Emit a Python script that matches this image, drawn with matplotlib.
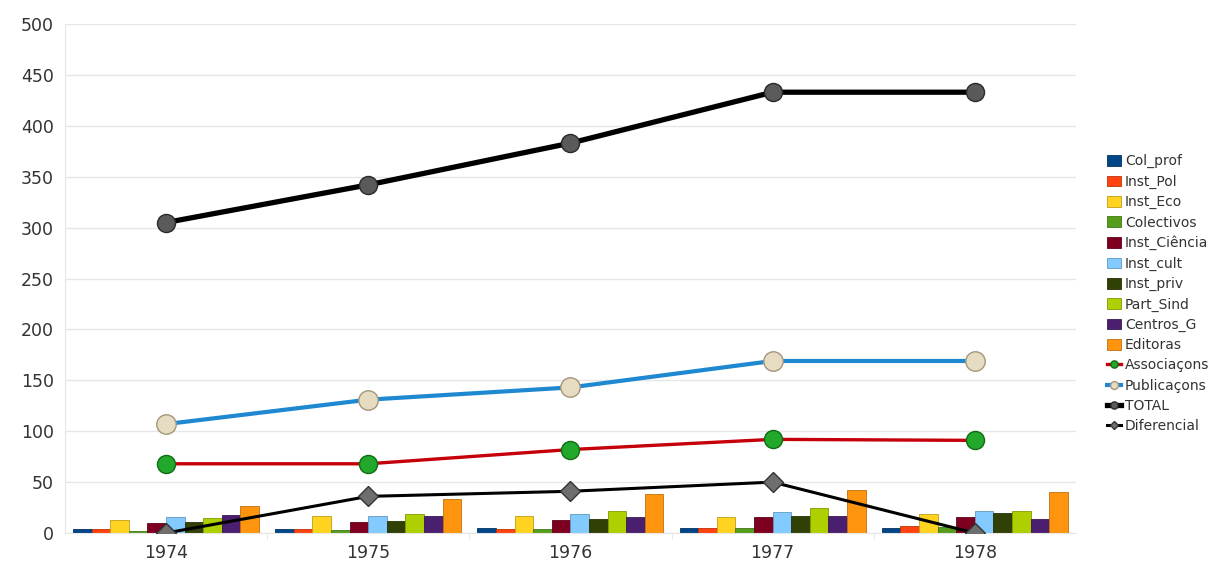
import matplotlib
matplotlib.use("Agg")
import matplotlib.pyplot as plt
import numpy as np

years = ["1974", "1975", "1976", "1977", "1978"]

bar_series = ["Col_prof", "Inst_Pol", "Inst_Eco", "Colectivos", "Inst_Ciência",
              "Inst_cult", "Inst_priv", "Part_Sind", "Centros_G", "Editoras"]
col_prof = [4, 4, 5, 5, 5]
inst_pol = [4, 4, 4, 5, 7]
inst_eco = [13, 17, 17, 16, 19]
colectivos = [2, 3, 4, 5, 6]
inst_ciencia = [10, 11, 13, 16, 16]
inst_cult = [16, 17, 19, 21, 22]
inst_priv = [11, 12, 14, 17, 20]
part_sind = [15, 19, 22, 25, 22]
centros_g = [18, 17, 16, 17, 14]
editoras = [27, 33, 38, 42, 40]

associacons = [68, 68, 82, 92, 91]
publicacons = [107, 131, 143, 169, 169]
total = [305, 342, 383, 433, 433]
diferencial = [0, 36, 41, 50, 0]

bar_values = [col_prof, inst_pol, inst_eco, colectivos, inst_ciencia,
              inst_cult, inst_priv, part_sind, centros_g, editoras]
bar_colors = ["#004586", "#ff420e", "#ffd320", "#579d1c", "#7e0021",
              "#83caff", "#314004", "#aecf00", "#4b1f6f", "#ff950e"]


def darker(c, f=0.75):
    return tuple(np.array(matplotlib.colors.to_rgb(c)) * f)


fig = plt.figure(figsize=(12.15, 5.74), dpi=100)
ax = fig.add_axes([0.0535, 0.0714, 0.832, 0.8868])

x = np.arange(len(years))
n = len(bar_series)
group = 0.92
w = group / n
handles = []
for i, (name, vals, c) in enumerate(zip(bar_series, bar_values, bar_colors)):
    offs = -group / 2 + w * (i + 0.5)
    b = ax.bar(x + offs, vals, width=w, color=c, edgecolor=darker(c),
               linewidth=0.6, label=name, zorder=2)
    handles.append(b)

l1, = ax.plot(x, associacons, color="#c5000b", lw=2.4, marker="o", ms=13,
              mfc="#22a82a", mec="#0e6d14", mew=1.0, label="Associaçons", zorder=4)
l2, = ax.plot(x, publicacons, color="#1e88d0", lw=3.0, marker="o", ms=14,
              mfc="#e6dcc2", mec="#a3967a", mew=1.0, label="Publicaçons", zorder=4)
l3, = ax.plot(x, total, color="#000000", lw=3.8, marker="o", ms=13,
              mfc="#5a5a5a", mec="#2a2a2a", mew=1.0, label="TOTAL", zorder=4)
l4, = ax.plot(x, diferencial, color="#000000", lw=2.2, marker="D", ms=10,
              mfc="#6e6e6e", mec="#333333", mew=1.0, label="Diferencial", zorder=5)
handles += [l1, l2, l3, l4]

ax.set_xlim(-0.5, len(years) - 0.5)
ax.set_ylim(0, 500)
ax.set_yticks(np.arange(0, 501, 50))
ax.set_xticks(x)
ax.set_xticklabels(years)
ax.set_xticks(np.arange(0.5, len(years) - 1, 1), minor=True)
ax.tick_params(axis="x", which="minor", length=4, color="#e0e0e0")
ax.tick_params(axis="both", which="major", length=0, labelsize=12.5,
               labelcolor="#333333", pad=8)
ax.grid(axis="y", color="#e6e6e6", lw=1.0, zorder=0)
for s in ["top", "right"]:
    ax.spines[s].set_visible(False)
ax.spines["left"].set_color("#e6e6e6")
ax.spines["bottom"].set_color("#e6e6e6")

leg = ax.legend(handles=handles, labels=[h.get_label() for h in handles],
                loc="center left", bbox_to_anchor=(1.025, 0.47), frameon=False,
                fontsize=10, handlelength=1.0, handleheight=0.8,
                handletextpad=0.3, labelspacing=0.45, markerscale=0.4,
                borderaxespad=0)
for t in leg.get_texts():
    t.set_color("#333333")

fig.savefig("out.png", dpi=100, facecolor="white")
